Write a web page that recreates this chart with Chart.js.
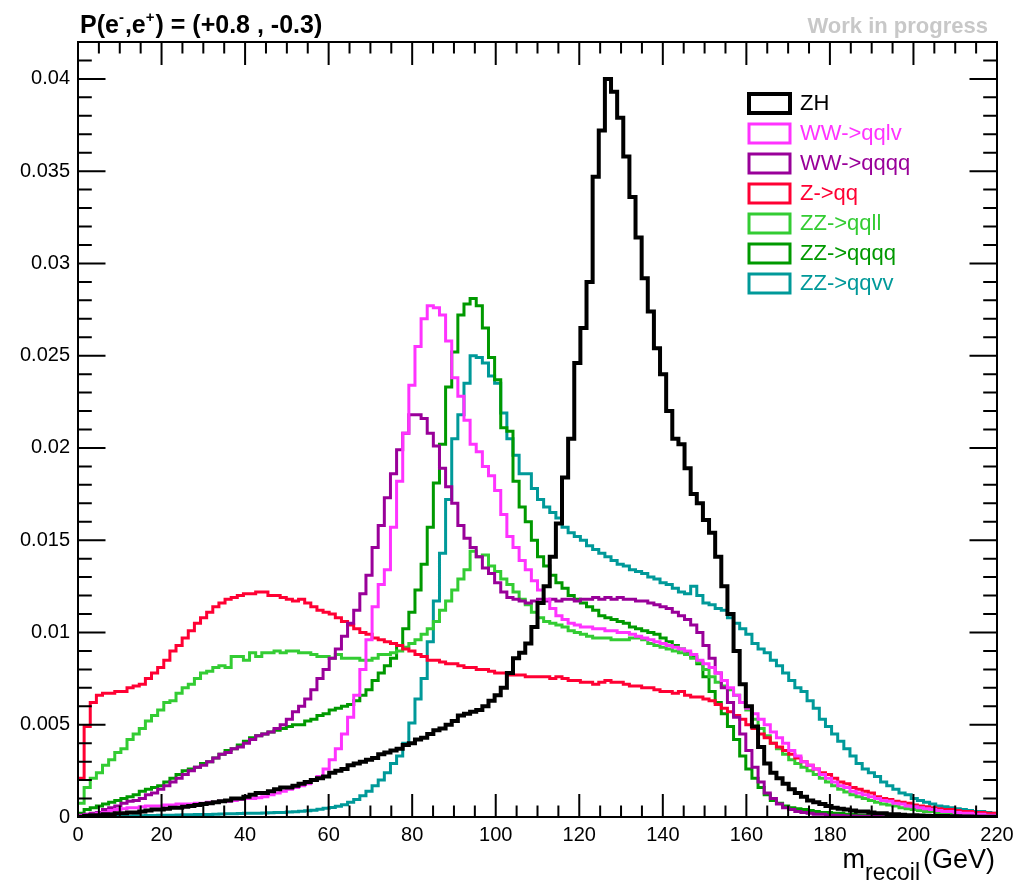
<!DOCTYPE html>
<html>
<head>
<meta charset="utf-8">
<title>Recoil mass distributions</title>
<script src="https://cdn.jsdelivr.net/npm/chart.js@4.4.1/dist/chart.umd.min.js"></script>
<style>
  html, body { margin: 0; padding: 0; background: #fff; }
  #wrap { width: 1023px; height: 886px; }
</style>
</head>
<body>
<div id="wrap"><canvas id="recoil" width="1023" height="886"></canvas></div>
<script>
// 150 bins from 0 to 220 GeV, normalised entries per bin (units of 1e-3)
const X_MIN = 0, X_MAX = 220, N_BINS = 150;

const zh = [
  0, 0.05, 0.1, 0.1, 0.15, 0.15, 0.2, 0.2, 0.25, 0.25,
  0.3, 0.35, 0.4, 0.4, 0.45, 0.5, 0.5, 0.55, 0.6, 0.65,
  0.7, 0.75, 0.8, 0.85, 0.9, 1.0, 1.0, 1.1, 1.2, 1.3,
  1.3, 1.4, 1.5, 1.6, 1.6, 1.7, 1.8, 1.9, 2.0, 2.1,
  2.2, 2.4, 2.5, 2.6, 2.8, 2.9, 3.0, 3.1, 3.2, 3.4,
  3.5, 3.6, 3.7, 3.9, 4.0, 4.2, 4.3, 4.5, 4.7, 4.8,
  5.0, 5.2, 5.5, 5.6, 5.7, 5.8, 6.0, 6.3, 6.6, 7.0,
  7.8, 8.6, 8.9, 9.4, 10.3, 11.6, 12.5, 14.1, 15.9, 18.4,
  20.5, 24.6, 26.5, 29.0, 34.7, 37.2, 40.0, 39.3, 37.9, 35.8,
  33.6, 31.4, 29.2, 27.4, 25.4, 24.0, 22.0, 20.5, 20.2, 18.9,
  17.5, 17.0, 16.1, 15.4, 14.1, 12.5, 11.0, 9.0, 7.2, 6.0,
  4.9, 3.8, 2.9, 2.4, 2.1, 1.8, 1.5, 1.3, 1.1, 0.9,
  0.8, 0.7, 0.6, 0.5, 0.45, 0.4, 0.35, 0.3, 0.3, 0.25,
  0.2, 0.2, 0.15, 0.15, 0.12, 0.1, 0.1, 0.08, 0.07, 0.06,
  0.05, 0.05, 0.04, 0.04, 0.03, 0.03, 0.02, 0.02, 0.02, 0.01
];

const wwQqlv = [
  0.05, 0.1, 0.15, 0.2, 0.25, 0.35, 0.4, 0.45, 0.5, 0.5,
  0.55, 0.6, 0.6, 0.6, 0.65, 0.65, 0.7, 0.7, 0.7, 0.75,
  0.75, 0.8, 0.8, 0.85, 0.85, 0.9, 0.95, 1.0, 1.0, 1.05,
  1.1, 1.2, 1.3, 1.4, 1.5, 1.6, 1.7, 1.8, 2.0, 2.2,
  2.6, 3.1, 3.7, 4.5, 5.4, 6.6, 8.0, 9.6, 11.4, 12.6,
  13.4, 15.7, 18.2, 20.8, 23.4, 25.5, 27.0, 27.7, 27.6, 27.2,
  25.8, 23.8, 22.8, 21.5, 20.2, 19.8, 19.0, 18.5, 17.7, 16.4,
  15.2, 14.6, 13.9, 13.4, 12.8, 12.3, 11.8, 11.3, 10.9, 10.7,
  10.5, 10.4, 10.3, 10.3, 10.2, 10.2, 10.1, 10.1, 10.0, 10.0,
  9.9, 9.8, 9.7, 9.6, 9.5, 9.4, 9.3, 9.2, 9.1, 9.0,
  8.8, 8.5, 8.3, 8.1, 7.8, 7.4, 7.0, 6.6, 6.2, 5.9,
  5.6, 5.3, 5.0, 4.6, 4.3, 4.0, 3.6, 3.3, 3.0, 2.8,
  2.6, 2.3, 2.1, 1.9, 1.7, 1.6, 1.4, 1.3, 1.2, 1.1,
  1.0, 0.9, 0.85, 0.75, 0.7, 0.6, 0.55, 0.5, 0.45, 0.4,
  0.35, 0.3, 0.3, 0.25, 0.2, 0.2, 0.15, 0.15, 0.1, 0.1
];

const wwQqqq = [
  0.1, 0.15, 0.2, 0.25, 0.4, 0.5, 0.6, 0.75, 0.85, 0.9,
  1.0, 1.2, 1.3, 1.5, 1.7, 1.9, 2.1, 2.3, 2.5, 2.7,
  2.8, 3.0, 3.2, 3.4, 3.5, 3.7, 3.8, 4.0, 4.2, 4.4,
  4.5, 4.6, 4.8, 5.0, 5.3, 5.7, 6.0, 6.4, 6.9, 7.5,
  8.0, 8.6, 9.1, 9.8, 10.5, 11.2, 12.1, 13.1, 14.6, 15.8,
  17.3, 18.6, 19.9, 20.8, 21.8, 21.8, 21.6, 20.8, 20.1, 18.9,
  17.9, 17.0, 15.8, 15.1, 14.6, 14.1, 13.5, 13.2, 12.7, 12.2,
  11.9, 11.8, 11.7, 11.6, 11.7, 11.8, 11.7, 11.8, 11.7, 11.8,
  11.8, 11.7, 11.8, 11.8, 11.9, 11.8, 11.9, 11.8, 11.9, 11.8,
  11.8, 11.7, 11.7, 11.6, 11.5, 11.4, 11.3, 11.1, 10.9, 10.7,
  10.4, 10.0, 9.3, 8.6, 7.8, 7.0, 6.2, 5.4, 4.5, 3.6,
  2.7, 1.9, 1.3, 1.0, 0.7, 0.5, 0.4, 0.3, 0.25, 0.2,
  0.15, 0.15, 0.1, 0.1, 0.08, 0.06, 0.05, 0.04, 0.04, 0.03,
  0.03, 0.02, 0.02, 0.02, 0.02, 0.01, 0.01, 0.01, 0.01, 0.01,
  0.01, 0, 0, 0, 0, 0, 0, 0, 0, 0
];

const zQq = [
  2.1, 4.9, 6.2, 6.6, 6.7, 6.7, 6.8, 6.8, 7.0, 7.1,
  7.2, 7.5, 7.8, 8.1, 8.5, 9.0, 9.3, 9.7, 10.1, 10.5,
  10.8, 11.1, 11.4, 11.6, 11.8, 11.9, 12.0, 12.1, 12.1, 12.2,
  12.2, 12.0, 12.0, 11.9, 11.8, 11.7, 11.8, 11.6, 11.4, 11.2,
  11.1, 11.0, 10.8, 10.6, 10.4, 10.2, 10.0, 9.9, 9.7, 9.6,
  9.5, 9.4, 9.3, 9.1, 9.0, 8.8, 8.7, 8.5, 8.5, 8.4,
  8.3, 8.3, 8.2, 8.1, 8.1, 8.0, 8.0, 7.9, 7.8, 7.8,
  7.7, 7.7, 7.7, 7.6, 7.6, 7.6, 7.6, 7.5, 7.6, 7.5,
  7.4, 7.4, 7.3, 7.3, 7.2, 7.3, 7.4, 7.3, 7.3, 7.2,
  7.1, 7.1, 7.0, 7.0, 6.9, 6.8, 6.8, 6.7, 6.8, 6.6,
  6.5, 6.5, 6.4, 6.3, 6.1, 5.9, 5.7, 5.5, 5.3, 5.0,
  4.8, 4.5, 4.3, 4.0, 3.8, 3.6, 3.4, 3.2, 3.0, 2.8,
  2.6, 2.4, 2.3, 2.1, 1.9, 1.8, 1.6, 1.5, 1.4, 1.3,
  1.1, 1.0, 0.95, 0.85, 0.8, 0.75, 0.65, 0.6, 0.55, 0.5,
  0.45, 0.4, 0.4, 0.35, 0.3, 0.3, 0.25, 0.25, 0.2, 0.2
];

const zzQqll = [
  0.75, 1.6, 2.1, 2.4, 2.8, 3.1, 3.5, 3.7, 4.2, 4.5,
  4.8, 5.2, 5.5, 5.8, 6.2, 6.3, 6.7, 7.0, 7.2, 7.5,
  7.8, 7.9, 8.1, 8.2, 8.1, 8.7, 8.7, 8.5, 8.9, 8.7,
  8.9, 8.9, 9.0, 8.9, 9.0, 9.0, 8.9, 8.9, 8.8, 8.7,
  8.7, 8.6, 8.8, 8.6, 8.6, 8.6, 8.5, 8.5, 8.6, 8.8,
  8.8, 8.9, 9.0, 9.2, 9.4, 9.6, 9.9, 10.2, 10.6, 11.2,
  11.7, 12.3, 12.9, 13.4, 14.4, 14.1, 14.2, 13.6, 13.3, 12.9,
  12.6, 12.2, 11.8, 11.5, 11.1, 10.8, 10.6, 10.5, 10.4, 10.3,
  10.1, 10.0, 9.9, 9.8, 9.7, 9.7, 9.7, 9.6, 9.6, 9.6,
  9.7, 9.7, 9.6, 9.4, 9.3, 9.2, 9.1, 9.0, 8.9, 8.8,
  8.6, 8.4, 8.0, 7.6, 7.3, 7.1, 6.9, 6.6, 6.2, 5.8,
  5.3, 4.8, 4.4, 4.0, 3.7, 3.4, 3.1, 2.9, 2.7, 2.5,
  2.3, 2.1, 1.9, 1.7, 1.5, 1.35, 1.2, 1.1, 1.0, 0.9,
  0.8, 0.7, 0.65, 0.6, 0.5, 0.45, 0.4, 0.35, 0.3, 0.3,
  0.25, 0.2, 0.2, 0.15, 0.15, 0.1, 0.1, 0.1, 0.08, 0.05
];

const zzQqqq = [
  0.2, 0.4, 0.5, 0.6, 0.7, 0.8, 0.9, 1.0, 1.1, 1.2,
  1.4, 1.5, 1.6, 1.7, 1.9, 2.1, 2.3, 2.5, 2.6, 2.7,
  2.9, 3.0, 3.2, 3.4, 3.6, 3.7, 3.9, 4.1, 4.3, 4.4,
  4.5, 4.6, 4.7, 4.8, 4.9, 5.0, 5.0, 5.2, 5.3, 5.5,
  5.6, 5.8, 5.9, 6.0, 6.1, 6.3, 6.6, 6.9, 7.4, 7.8,
  8.2, 8.6, 9.3, 10.2, 11.1, 12.3, 13.7, 15.7, 18.1, 20.2,
  23.3, 25.2, 27.2, 27.8, 28.1, 27.7, 26.5, 24.9, 23.7, 21.1,
  20.9, 18.2, 16.8, 16.0, 15.0, 14.1, 13.6, 13.1, 12.7, 12.4,
  12.0, 11.8, 11.6, 11.4, 11.2, 10.9, 10.8, 10.7, 10.6, 10.5,
  10.3, 10.2, 10.1, 10.0, 9.9, 9.7, 9.5, 9.3, 9.1, 8.9,
  8.7, 8.3, 7.6, 6.8, 6.2, 5.6, 4.9, 4.2, 3.3, 2.6,
  2.1, 1.6, 1.2, 0.9, 0.75, 0.6, 0.5, 0.45, 0.4, 0.35,
  0.3, 0.25, 0.25, 0.2, 0.2, 0.15, 0.15, 0.1, 0.1, 0.1,
  0.08, 0.07, 0.06, 0.05, 0.04, 0.03, 0.03, 0.02, 0.02, 0.02,
  0.02, 0.01, 0.01, 0.01, 0.01, 0.01, 0, 0, 0, 0
];

const zzQqvv = [
  0, 0, 0.02, 0.03, 0.04, 0.05, 0.05, 0.06, 0.06, 0.07,
  0.07, 0.08, 0.08, 0.09, 0.1, 0.1, 0.11, 0.12, 0.12, 0.13,
  0.14, 0.14, 0.15, 0.16, 0.17, 0.18, 0.19, 0.2, 0.2, 0.21,
  0.22, 0.23, 0.24, 0.25, 0.27, 0.29, 0.31, 0.34, 0.37, 0.42,
  0.47, 0.52, 0.58, 0.66, 0.8, 0.95, 1.15, 1.4, 1.7, 2.0,
  2.4, 2.9, 3.3, 4.0, 5.1, 6.4, 7.5, 9.5, 11.7, 14.3,
  17.2, 20.5, 21.8, 23.5, 25.0, 24.9, 24.6, 23.9, 23.5, 21.9,
  20.5, 19.6, 18.6, 18.6, 17.8, 17.2, 16.8, 16.5, 16.2, 15.7,
  15.4, 15.2, 15.0, 14.7, 14.5, 14.3, 14.1, 13.9, 13.7, 13.6,
  13.4, 13.3, 13.2, 13.0, 12.9, 12.7, 12.6, 12.4, 12.2, 12.1,
  12.5, 12.0, 11.6, 11.5, 11.3, 11.2, 10.8, 10.5, 10.2, 9.9,
  9.4, 9.1, 8.9, 8.5, 8.2, 7.8, 7.4, 7.0, 6.8, 6.3,
  5.9, 5.3, 4.9, 4.5, 4.1, 3.7, 3.3, 2.9, 2.6, 2.4,
  2.2, 1.9, 1.7, 1.5, 1.3, 1.2, 1.0, 0.9, 0.8, 0.7,
  0.6, 0.55, 0.5, 0.45, 0.4, 0.35, 0.3, 0.3, 0.25, 0.2
];

const xTicks = [0, 20, 40, 60, 80, 100, 120, 140, 160, 180, 200, 220];
const yTicks = [0, 0.005, 0.01, 0.015, 0.02, 0.025, 0.03, 0.035, 0.04];
const Y_MAX = 0.042;

const FONT = '"Liberation Sans", Arial, Helvetica, sans-serif';
const BIN_W = (X_MAX - X_MIN) / N_BINS;

// left bin edges, plus a closing point at the upper edge for the stepped outline
function histPoints(vals) {
  const pts = vals.map((v, i) => ({ x: X_MIN + i * BIN_W, y: v / 1000 }));
  pts.push({ x: X_MAX, y: vals[vals.length - 1] / 1000 });
  return pts;
}

const samples = [
  { label: 'ZH',        values: zh,     color: '#000000', width: 4 },
  { label: 'WW->qqlv',  values: wwQqlv, color: '#ff33ff', width: 3 },
  { label: 'WW->qqqq',  values: wwQqqq, color: '#990099', width: 3 },
  { label: 'Z->qq',     values: zQq,    color: '#ff0033', width: 3 },
  { label: 'ZZ->qqll',  values: zzQqll, color: '#33cc33', width: 3 },
  { label: 'ZZ->qqqq',  values: zzQqqq, color: '#009900', width: 3 },
  { label: 'ZZ->qqvv',  values: zzQqvv, color: '#009999', width: 3 }
];

// ROOT-like frame with inward ticks on all four sides
const frameTicks = {
  id: 'frameTicks',
  afterDatasetsDraw(chart) {
    const { ctx, chartArea: a, scales: { x, y } } = chart;
    ctx.save();
    ctx.strokeStyle = '#000';
    ctx.lineWidth = 2;
    ctx.beginPath();
    for (let k = 0; k <= 44; k++) {
      const px = x.getPixelForValue(k * 5);
      const len = k % 4 === 0 ? 23 : 11.5;
      ctx.moveTo(px, a.bottom); ctx.lineTo(px, a.bottom - len);
      ctx.moveTo(px, a.top); ctx.lineTo(px, a.top + len);
    }
    for (let k = 0; k <= 42; k++) {
      const py = y.getPixelForValue(k / 1000);
      const len = k % 5 === 0 ? 27.5 : 13.8;
      ctx.moveTo(a.left, py); ctx.lineTo(a.left + len, py);
      ctx.moveTo(a.right, py); ctx.lineTo(a.right - len, py);
    }
    ctx.stroke();
    ctx.strokeRect(a.left, a.top, a.right - a.left, a.bottom - a.top);
    ctx.restore();
  }
};

// legend boxes, header texts and axis title
const decorations = {
  id: 'decorations',
  afterDraw(chart) {
    const ctx = chart.ctx;
    ctx.save();

    // legend
    ctx.textAlign = 'left';
    ctx.textBaseline = 'middle';
    ctx.font = '22px ' + FONT;
    chart.data.datasets.forEach((ds, i) => {
      const cy = 103 + i * 30;
      ctx.strokeStyle = ds.borderColor;
      ctx.lineWidth = ds.borderWidth;
      ctx.strokeRect(749, cy - 9, 41, 19);
      ctx.fillStyle = ds.borderColor;
      ctx.fillText(ds.label, 800, cy + 1);
    });

    // beam polarisation
    ctx.textBaseline = 'alphabetic';
    ctx.fillStyle = '#000';
    const big = 'bold 25px ' + FONT, sup = 'bold 15px ' + FONT;
    const parts = [['P(e', big, 0], ['-', sup, -11], [',e', big, 0], ['+', sup, -11], [') = (+0.8 , -0.3)', big, 0]];
    let tx = 80;
    for (const [t, f, dy] of parts) {
      ctx.font = f;
      ctx.fillText(t, tx, 33 + dy);
      tx += ctx.measureText(t).width + (f === sup ? 1 : 0);
    }

    ctx.textAlign = 'right';
    ctx.fillStyle = '#c8c8c8';
    ctx.font = 'bold 22px ' + FONT;
    ctx.fillText('Work in progress', 988, 33);

    // x axis title: m_recoil (GeV)
    ctx.fillStyle = '#000';
    ctx.textAlign = 'left';
    const mainF = '27px ' + FONT, subF = '23px ' + FONT;
    ctx.font = mainF;
    const wm = ctx.measureText('m').width, wu = ctx.measureText('(GeV)').width;
    ctx.font = subF;
    const ws = ctx.measureText('recoil').width;
    let ax = 995 - (wm + ws + 3 + wu);
    ctx.font = mainF;
    ctx.fillText('m', ax, 868);
    ax += wm;
    ctx.font = subF;
    ctx.fillText('recoil', ax, 880);
    ax += ws + 3;
    ctx.font = mainF;
    ctx.fillText('(GeV)', ax, 868);

    ctx.restore();
  }
};

new Chart(document.getElementById('recoil'), {
  type: 'line',
  data: {
    datasets: samples.map(s => ({
      label: s.label,
      data: histPoints(s.values),
      borderColor: s.color,
      backgroundColor: s.color,
      borderWidth: s.width,
      stepped: 'before',
      pointRadius: 0,
      fill: false,
      borderJoinStyle: 'miter',
      borderCapStyle: 'butt'
    }))
  },
  options: {
    responsive: false,
    animation: false,
    devicePixelRatio: 1,
    layout: { padding: { top: 42, right: 26, left: 0, bottom: 0 } },
    plugins: { legend: { display: false }, tooltip: { enabled: false } },
    scales: {
      x: {
        type: 'linear',
        min: X_MIN,
        max: X_MAX,
        afterBuildTicks: s => { s.ticks = xTicks.map(v => ({ value: v })); },
        afterFit: s => { s.height = 69; },
        grid: { display: false, drawTicks: false },
        border: { display: false },
        ticks: {
          autoSkip: false,
          maxRotation: 0,
          padding: 6,
          color: '#000',
          font: { family: FONT, size: 20 }
        }
      },
      y: {
        min: 0,
        max: Y_MAX,
        afterBuildTicks: s => { s.ticks = yTicks.map(v => ({ value: v })); },
        afterFit: s => { s.width = 78; },
        grid: { display: false, drawTicks: false },
        border: { display: false },
        ticks: {
          padding: 8,
          color: '#000',
          font: { family: FONT, size: 20 },
          callback: v => String(+v.toFixed(3))
        }
      }
    }
  },
  plugins: [frameTicks, decorations]
});
</script>
</body>
</html>
